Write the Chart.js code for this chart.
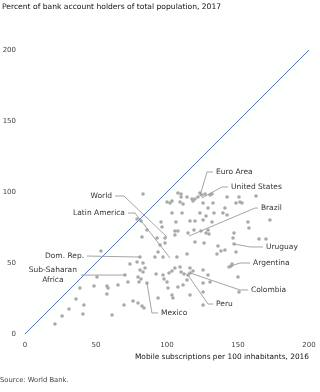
<!DOCTYPE html>
<html>
<head>
<meta charset="utf-8">
<script src="https://cdn.jsdelivr.net/npm/chart.js@4.4.1/dist/chart.umd.min.js"></script>
<style>
  html, body { margin: 0; padding: 0; background: #fff; }
  #wrap { width: 320px; height: 392px; position: relative; }
</style>
</head>
<body>
<div id="wrap"><canvas id="chart"></canvas></div>
<script>
// mobile subscriptions per 100 inhabitants (2016) vs. % account holders (2017)
const mobileSubs = [
  83.1, 107.7, 109.9, 109.9, 114.1, 117.6, 118.3, 119.7, 121.8, 123.2, 124.6, 126.8, 130.3, 131.7,
  100.0, 103.5, 102.1, 109.2, 111.3, 142.3, 150.7, 162.7, 125.4, 132.4, 128.9, 140.8, 151.4, 148.6,
  152.8, 103.5, 110.6, 133.1, 123.2, 127.5, 139.4, 142.3,
  78.9, 81.7, 95.8, 96.5, 106.3, 116.2, 119.7, 125.4, 131.7, 157.0, 157.7, 172.5, 85.9, 82.4,
  93.0, 98.6, 98.6, 105.6, 107.7, 105.6, 114.8, 119.0, 123.9, 127.5, 128.9, 129.6, 147.2, 146.5,
  164.8, 169.7, 119.7, 126.1, 135.9, 95.1, 93.7, 91.5, 97.2, 107.0, 114.1, 135.2, 138.0, 140.8,
  148.6, 147.2, 53.5,
  81.0, 78.9, 73.9, 83.1, 84.5, 81.0, 83.1, 79.6, 81.7, 80.3, 72.5, 70.4, 92.3, 97.2, 97.9,
  101.4, 103.5, 105.6, 109.2, 109.9, 112.0, 116.2, 118.3, 125.4, 114.8, 116.2, 114.1, 100.0,
  100.7, 107.7, 111.3, 116.2, 125.4, 93.7, 103.5, 104.2, 125.4, 128.9, 130.3, 85.9, 76.1, 79.6,
  82.4, 83.8, 69.7, 50.7, 38.7, 48.6, 57.7, 58.5, 65.5, 57.7, 35.9, 41.5, 31.0, 26.1, 40.8, 61.3,
  21.1, 150.0, 150.7, 143.7, 145.8, 145.1, 125.4
];
const accountShare = [
  98.6, 99.3, 98.6, 96.5, 96.5, 95.1, 93.7, 95.1, 96.5, 99.3, 97.9, 98.6, 97.9, 98.6,
  93.0, 93.7, 92.3, 93.0, 91.5, 96.5, 96.5, 97.2, 92.3, 92.3, 88.7, 88.7, 93.0, 92.3,
  92.3, 85.2, 85.2, 85.2, 85.2, 83.1, 85.2, 83.8,
  81.0, 79.6, 78.9, 75.4, 78.9, 79.6, 79.6, 80.3, 78.9, 78.9, 74.6, 80.3, 73.2, 68.3,
  67.6, 67.6, 64.1, 72.5, 72.5, 69.7, 71.1, 73.2, 72.5, 71.1, 73.2, 70.4, 71.1, 67.6,
  66.9, 66.9, 64.8, 64.1, 62.0, 62.7, 57.7, 54.2, 54.2, 54.2, 56.3, 56.3, 58.5, 59.2,
  57.7, 63.4, 58.5,
  54.2, 50.7, 49.3, 50.0, 46.5, 45.1, 43.7, 40.1, 38.7, 36.6, 36.6, 41.5, 42.3, 41.5, 38.7,
  43.0, 44.4, 46.5, 47.2, 43.7, 42.3, 46.5, 44.4, 45.1, 41.5, 43.0, 38.0, 36.6,
  32.4, 33.1, 34.5, 27.5, 29.6, 25.4, 27.5, 25.4, 20.4, 41.5, 36.6, 35.9, 23.2, 21.8,
  19.7, 18.3, 20.4, 40.1, 32.4, 33.8, 33.8, 32.4, 34.5, 28.2, 24.6, 20.4, 17.6, 12.7, 14.1, 13.4,
  7.0, 40.1, 29.6, 47.2, 49.3, 47.9, 35.9
];

// 45-degree reference line
const diagonalX = [0, 200];
const diagonalY = [0, 200];

const axisTicks = [0, 50, 100, 150, 200];

// labelled economies
const calloutNames = ['World', 'Latin America', 'Euro Area', 'United States', 'Brazil', 'Uruguay',
  'Argentina', 'Colombia', 'Peru', 'Mexico', 'Dom. Rep.', 'Sub-Saharan\nAfrica'];
const calloutMobile = [100.0, 102.1, 123.2, 124.6, 115.5, 147.2, 145.1, 116.2, 114.8, 85.9, 81.0, 70.4];
const calloutAccount = [68.3, 53.5, 97.2, 95.8, 69.0, 63.4, 47.9, 43.0, 41.5, 35.9, 54.2, 41.5];

// where each leader line bends and ends (axis units), and which side the text sits
const calloutLayout = [
  { ex: 69.7, ey: 97.2, lx: 63.4, ly: 97.2, align: 'right' },
  { ex: 77.5, ey: 85.2, lx: 72.5, ly: 85.2, align: 'right' },
  { ex: 128.2, ey: 114.1, lx: 132.4, ly: 114.1, align: 'left' },
  { ex: 138.7, ey: 103.5, lx: 143.0, ly: 103.5, align: 'left' },
  { ex: 162.0, ey: 88.7, lx: 164.0, ly: 88.7, align: 'left' },
  { ex: 158.5, ey: 61.3, lx: 167.6, ly: 61.3, align: 'left' },
  { ex: 151.4, ey: 50.0, lx: 158.5, ly: 50.0, align: 'left' },
  { ex: 151.4, ey: 31.0, lx: 157.0, ly: 31.0, align: 'left' },
  { ex: 128.9, ey: 21.1, lx: 132.4, ly: 21.1, align: 'left' },
  { ex: 89.4, ey: 14.8, lx: 93.7, ly: 14.8, align: 'left' },
  { ex: 43.7, ey: 54.9, lx: 43.7, ly: 54.9, align: 'right' },
  { ex: 39.4, ey: 41.5, lx: 39.4, ly: 41.5, align: 'center' }
];

const FONT = '"DejaVu Sans", sans-serif';
const TEXT = '#333';

const points = mobileSubs.map((x, i) => ({ x: x, y: accountShare[i] }));
const diagonal = diagonalX.map((x, i) => ({ x: x, y: diagonalY[i] }));

const calloutPlugin = {
  id: 'callouts',
  afterDatasetsDraw(chart) {
    const { ctx, scales: { x, y } } = chart;
    ctx.save();
    ctx.strokeStyle = '#9a9a9a';
    ctx.lineWidth = 0.9;
    ctx.font = '7.5px ' + FONT;
    ctx.fillStyle = TEXT;
    ctx.textBaseline = 'middle';
    calloutNames.forEach((name, i) => {
      const l = calloutLayout[i];
      const px = x.getPixelForValue(calloutMobile[i]);
      const py = y.getPixelForValue(calloutAccount[i]);
      const ex = x.getPixelForValue(l.ex), ey = y.getPixelForValue(l.ey);
      const lx = x.getPixelForValue(l.lx), ly = y.getPixelForValue(l.ly);
      ctx.beginPath();
      ctx.moveTo(px, py);
      ctx.lineTo(ex, ey);
      ctx.lineTo(lx, ly);
      ctx.stroke();
      const lines = name.split('\n');
      if (l.align === 'left') {
        ctx.textAlign = 'left';
        ctx.fillText(name, lx + 3, ly);
      } else if (l.align === 'right') {
        ctx.textAlign = 'right';
        ctx.fillText(name, lx - 3, ly);
      } else {
        ctx.textAlign = 'center';
        const w = Math.max(...lines.map(s => ctx.measureText(s).width));
        lines.forEach((s, k) => {
          ctx.fillText(s, lx - 4 - w / 2, ly + (k - (lines.length - 1) / 2) * 10);
        });
      }
    });
    ctx.restore();
  },
  afterDraw(chart) {
    const { ctx } = chart;
    ctx.save();
    ctx.fillStyle = '#111';
    ctx.font = '7.6px ' + FONT;
    ctx.textAlign = 'left';
    ctx.textBaseline = 'middle';
    ctx.fillText('Percent of bank account holders of total population, 2017', 2, 7);
    ctx.fillStyle = '#444';
    ctx.font = '6.8px ' + FONT;
    ctx.fillText('Source: World Bank.', 0, 380);
    ctx.restore();
  }
};

new Chart(document.getElementById('chart'), {
  data: {
    datasets: [
      {
        type: 'line',
        data: diagonal,
        borderColor: '#4a78c8',
        borderWidth: 1,
        pointRadius: 0,
        fill: false,
        order: 2
      },
      {
        type: 'scatter',
        data: points,
        backgroundColor: '#a9a9a9',
        borderWidth: 0,
        pointRadius: 1.8,
        order: 1
      }
    ]
  },
  options: {
    responsive: true,
    maintainAspectRatio: false,
    animation: false,
    layout: { padding: { top: 50, right: 0, bottom: 26, left: 0 } },
    plugins: {
      legend: { display: false },
      tooltip: { enabled: false }
    },
    scales: {
      x: {
        type: 'linear',
        min: 0, max: 200,
        afterFit: s => { s.height = 32; s.paddingRight = 11; s.paddingLeft = 0; },
        afterBuildTicks: s => { s.ticks = axisTicks.map(v => ({ value: v })); },
        grid: { display: false, drawTicks: false },
        border: { display: false },
        ticks: { padding: 7, color: '#444', font: { family: FONT, size: 7 }, maxRotation: 0 },
        title: {
          display: true,
          align: 'end',
          text: 'Mobile subscriptions per 100 inhabitants, 2016',
          color: '#111',
          font: { family: FONT, size: 7.4 },
          padding: { top: 0, bottom: 4 }
        }
      },
      y: {
        type: 'linear',
        min: 0, max: 200,
        afterFit: s => { s.width = 25; },
        afterBuildTicks: s => { s.ticks = axisTicks.map(v => ({ value: v })); },
        grid: { display: false, drawTicks: false },
        border: { display: false },
        ticks: { padding: 9, color: '#444', font: { family: FONT, size: 7 } }
      }
    }
  },
  plugins: [calloutPlugin]
});
</script>
</body>
</html>
